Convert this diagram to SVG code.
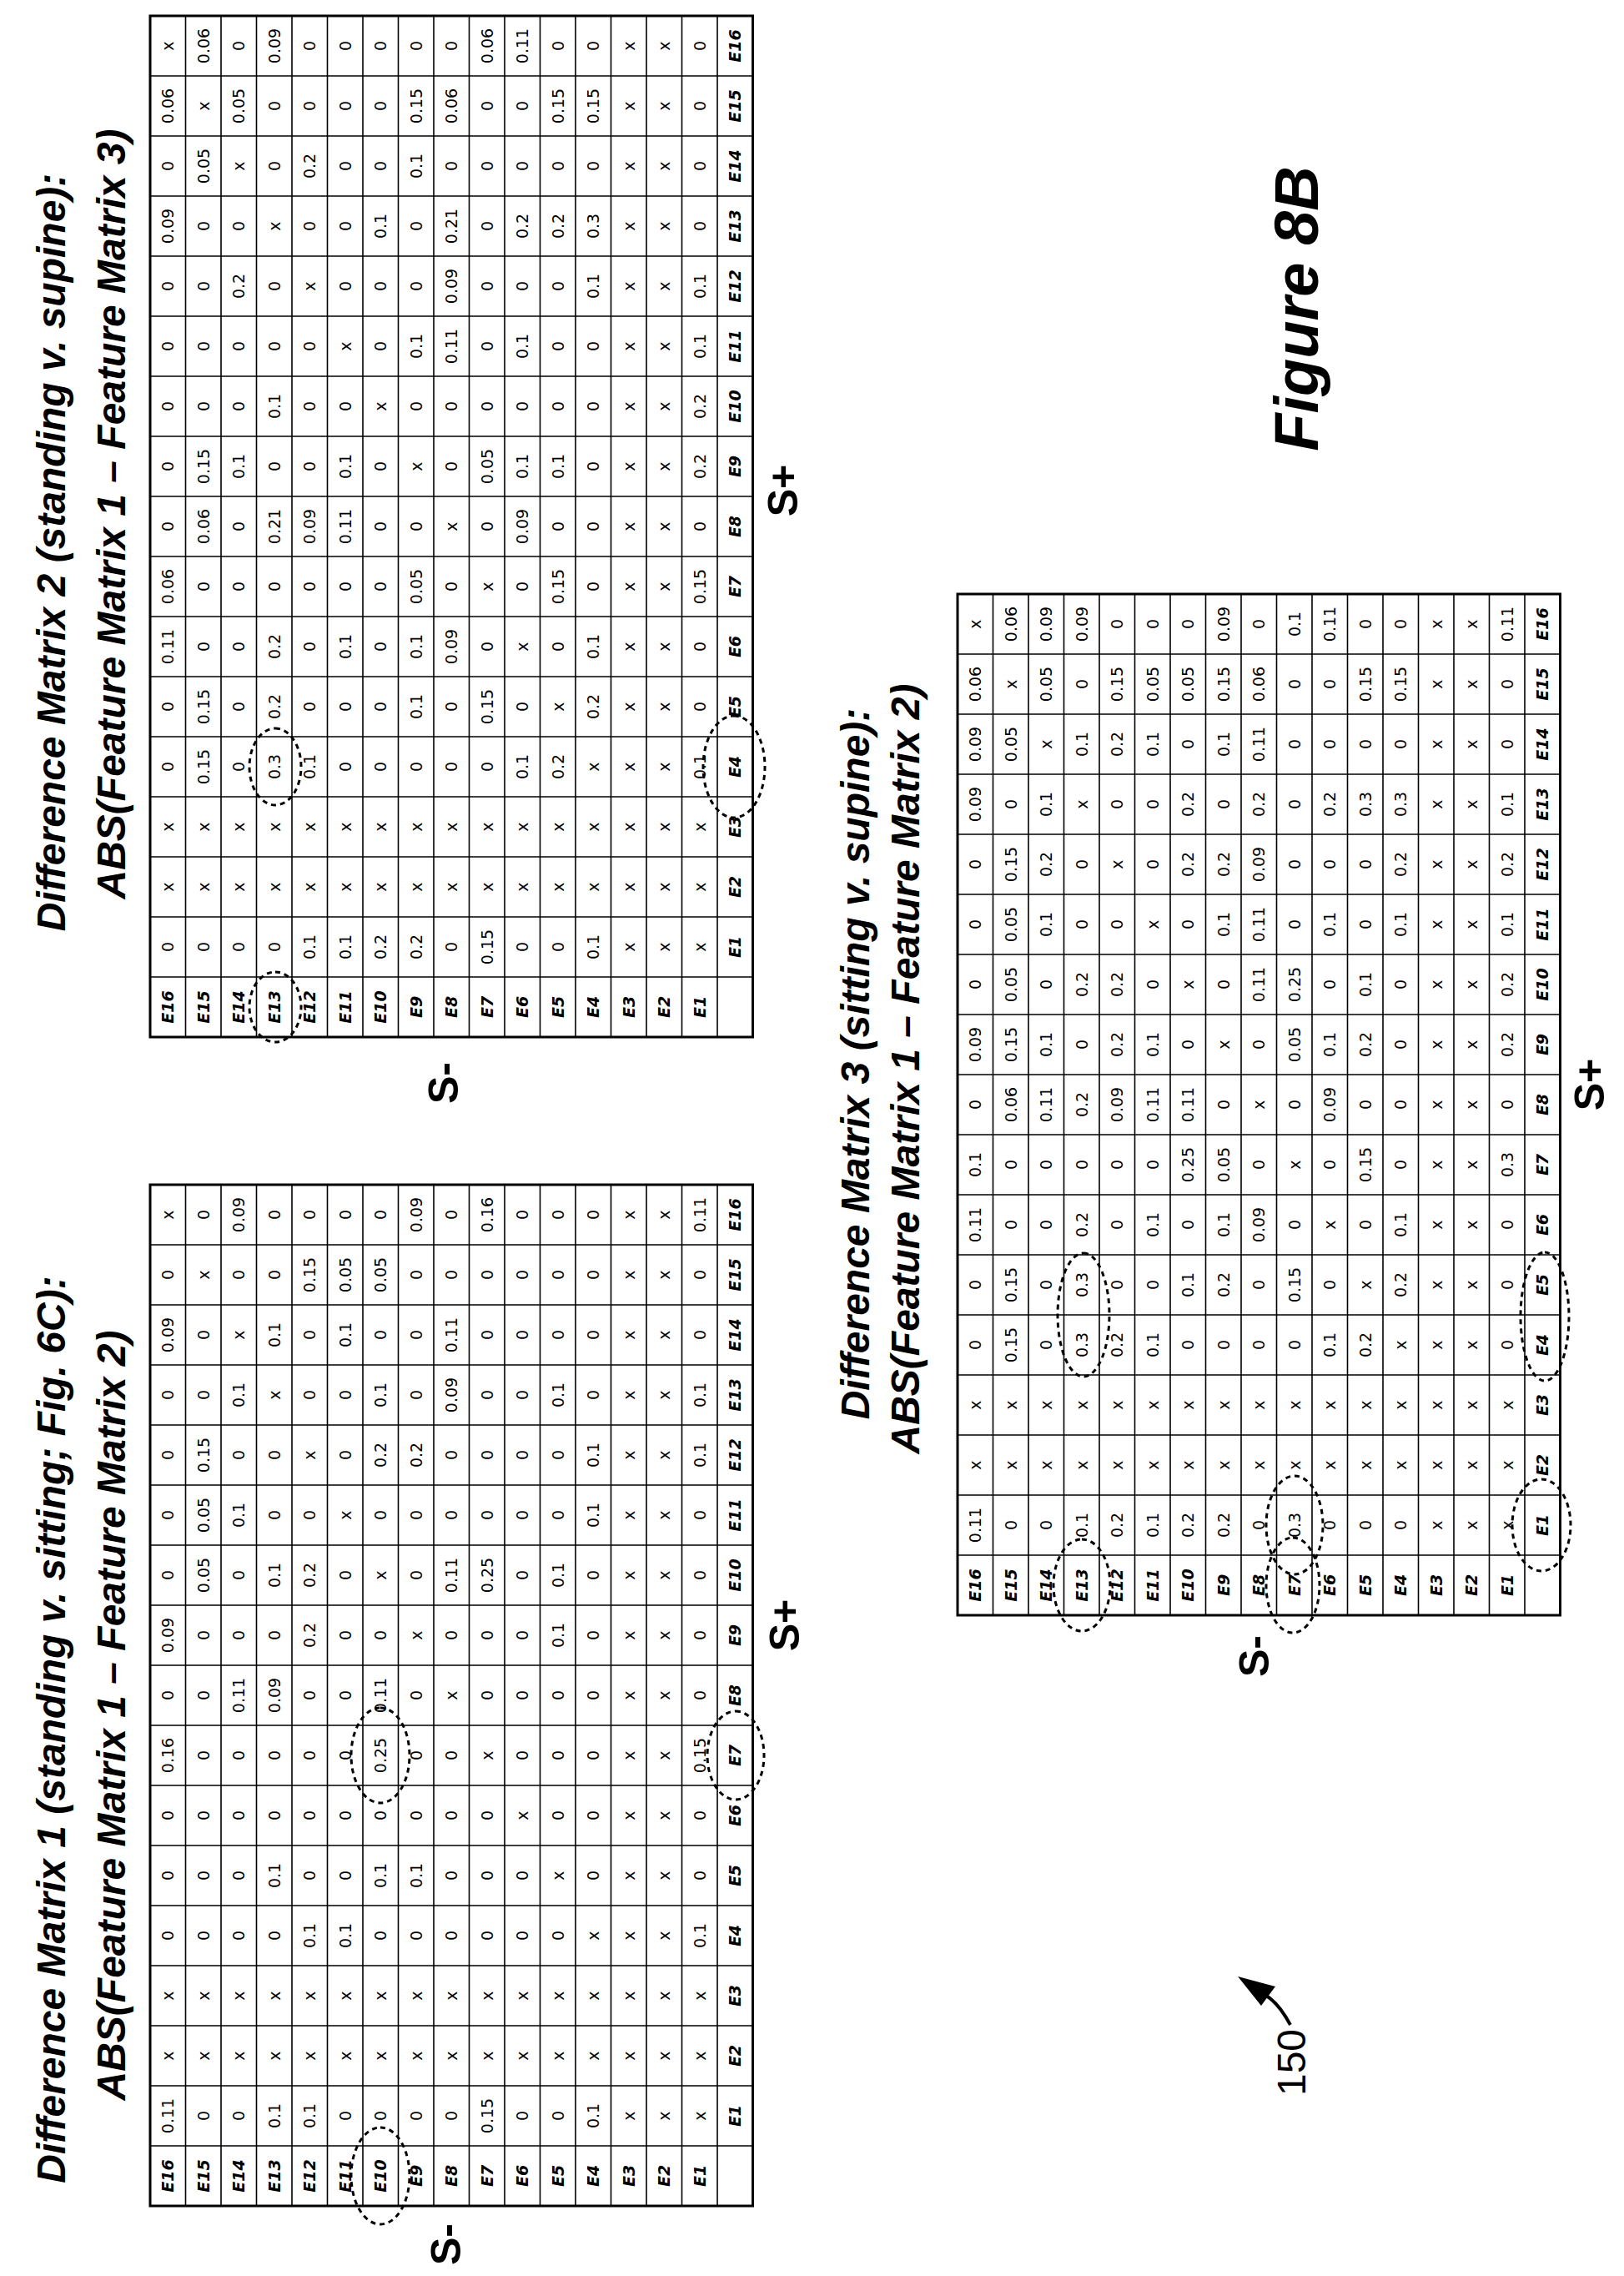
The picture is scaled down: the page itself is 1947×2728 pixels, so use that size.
<svg xmlns="http://www.w3.org/2000/svg" xmlns:xlink="http://www.w3.org/1999/xlink" width="1947" height="2728" viewBox="0 0 1947 2728">
<style>
.v{font-family:"DejaVu Sans",sans-serif;font-size:19px;text-anchor:middle;fill:#000}
.l{font-family:"DejaVu Sans",sans-serif;font-size:19px;font-weight:bold;font-style:italic;text-anchor:middle;fill:#000}
.t{font-family:"Liberation Sans",Arial,sans-serif;font-size:48px;font-weight:bold;font-style:italic;text-anchor:middle}
.s{font-family:"Liberation Sans",Arial,sans-serif;font-size:50px;font-weight:bold;text-anchor:middle}
.e{fill:none;stroke:#000;stroke-width:3;stroke-dasharray:6 5}
</style>
<defs>
<g id="grid">
<rect x="0" y="0" width="1224" height="722.5" fill="#fff" stroke="#000" stroke-width="3"/>
<path fill="none" stroke="#000" stroke-width="1.6" d="M0 42.5H1224M0 85H1224M0 127.5H1224M0 170H1224M0 212.5H1224M0 255H1224M0 297.5H1224M0 340H1224M0 382.5H1224M0 425H1224M0 467.5H1224M0 510H1224M0 552.5H1224M0 595H1224M0 637.5H1224M0 680H1224M72 0V722.5M144 0V722.5M216 0V722.5M288 0V722.5M360 0V722.5M432 0V722.5M504 0V722.5M576 0V722.5M648 0V722.5M720 0V722.5M792 0V722.5M864 0V722.5M936 0V722.5M1008 0V722.5M1080 0V722.5M1152 0V722.5"/>
</g>
<g id="labels" class="l">
<g transform="translate(36)"><text y="28">E16</text><text y="71">E15</text><text y="113">E14</text><text y="156">E13</text><text y="198">E12</text><text y="241">E11</text><text y="283">E10</text><text y="326">E9</text><text y="368">E8</text><text y="411">E7</text><text y="453">E6</text><text y="496">E5</text><text y="538">E4</text><text y="581">E3</text><text y="623">E2</text><text y="666">E1</text></g>
<g transform="translate(0,708)"><text x="108">E1</text><text x="180">E2</text><text x="252">E3</text><text x="324">E4</text><text x="396">E5</text><text x="468">E6</text><text x="540">E7</text><text x="612">E8</text><text x="684">E9</text><text x="756">E10</text><text x="828">E11</text><text x="900">E12</text><text x="972">E13</text><text x="1044">E14</text><text x="1116">E15</text><text x="1188">E16</text></g>
</g>
<g id="xcol" class="v"><text y="28">x</text><text y="71">x</text><text y="113">x</text><text y="156">x</text><text y="198">x</text><text y="241">x</text><text y="283">x</text><text y="326">x</text><text y="368">x</text><text y="411">x</text><text y="453">x</text><text y="496">x</text><text y="538">x</text><text y="581">x</text><text y="623">x</text><text y="666">x</text></g>
</defs>
<rect width="1947" height="2728" fill="#fff"/>
<g transform="translate(0,2728) rotate(-90)">

<g id="matrix1" transform="translate(84,180)">
<use xlink:href="#grid"/><use xlink:href="#labels"/>
<g class="v" transform="translate(108)"><text y="28">0.11</text><text y="71">0</text><text y="113">0</text><text y="156">0.1</text><text y="198">0.1</text><text y="241">0</text><text y="283">0</text><text y="326">0</text><text y="368">0</text><text y="411">0.15</text><text y="453">0</text><text y="496">0</text><text y="538">0.1</text><text y="581">x</text><text y="623">x</text><text y="666">x</text></g>
<use xlink:href="#xcol" x="180"/><use xlink:href="#xcol" x="252"/>
<g class="v" transform="translate(324)"><text y="28">0</text><text y="71">0</text><text y="113">0</text><text y="156">0</text><text y="198">0.1</text><text y="241">0.1</text><text y="283">0</text><text y="326">0</text><text y="368">0</text><text y="411">0</text><text y="453">0</text><text y="496">0</text><text y="538">x</text><text y="581">x</text><text y="623">x</text><text y="666">0.1</text></g>
<g class="v" transform="translate(396)"><text y="28">0</text><text y="71">0</text><text y="113">0</text><text y="156">0.1</text><text y="198">0</text><text y="241">0</text><text y="283">0.1</text><text y="326">0.1</text><text y="368">0</text><text y="411">0</text><text y="453">0</text><text y="496">x</text><text y="538">0</text><text y="581">x</text><text y="623">x</text><text y="666">0</text></g>
<g class="v" transform="translate(468)"><text y="28">0</text><text y="71">0</text><text y="113">0</text><text y="156">0</text><text y="198">0</text><text y="241">0</text><text y="283">0</text><text y="326">0</text><text y="368">0</text><text y="411">0</text><text y="453">x</text><text y="496">0</text><text y="538">0</text><text y="581">x</text><text y="623">x</text><text y="666">0</text></g>
<g class="v" transform="translate(540)"><text y="28">0.16</text><text y="71">0</text><text y="113">0</text><text y="156">0</text><text y="198">0</text><text y="241">0</text><text y="283">0.25</text><text y="326">0</text><text y="368">0</text><text y="411">x</text><text y="453">0</text><text y="496">0</text><text y="538">0</text><text y="581">x</text><text y="623">x</text><text y="666">0.15</text></g>
<g class="v" transform="translate(612)"><text y="28">0</text><text y="71">0</text><text y="113">0.11</text><text y="156">0.09</text><text y="198">0</text><text y="241">0</text><text y="283">0.11</text><text y="326">0</text><text y="368">x</text><text y="411">0</text><text y="453">0</text><text y="496">0</text><text y="538">0</text><text y="581">x</text><text y="623">x</text><text y="666">0</text></g>
<g class="v" transform="translate(684)"><text y="28">0.09</text><text y="71">0</text><text y="113">0</text><text y="156">0</text><text y="198">0.2</text><text y="241">0</text><text y="283">0</text><text y="326">x</text><text y="368">0</text><text y="411">0</text><text y="453">0</text><text y="496">0.1</text><text y="538">0</text><text y="581">x</text><text y="623">x</text><text y="666">0</text></g>
<g class="v" transform="translate(756)"><text y="28">0</text><text y="71">0.05</text><text y="113">0</text><text y="156">0.1</text><text y="198">0.2</text><text y="241">0</text><text y="283">x</text><text y="326">0</text><text y="368">0.11</text><text y="411">0.25</text><text y="453">0</text><text y="496">0.1</text><text y="538">0</text><text y="581">x</text><text y="623">x</text><text y="666">0</text></g>
<g class="v" transform="translate(828)"><text y="28">0</text><text y="71">0.05</text><text y="113">0.1</text><text y="156">0</text><text y="198">0</text><text y="241">x</text><text y="283">0</text><text y="326">0</text><text y="368">0</text><text y="411">0</text><text y="453">0</text><text y="496">0</text><text y="538">0.1</text><text y="581">x</text><text y="623">x</text><text y="666">0</text></g>
<g class="v" transform="translate(900)"><text y="28">0</text><text y="71">0.15</text><text y="113">0</text><text y="156">0</text><text y="198">x</text><text y="241">0</text><text y="283">0.2</text><text y="326">0.2</text><text y="368">0</text><text y="411">0</text><text y="453">0</text><text y="496">0</text><text y="538">0.1</text><text y="581">x</text><text y="623">x</text><text y="666">0.1</text></g>
<g class="v" transform="translate(972)"><text y="28">0</text><text y="71">0</text><text y="113">0.1</text><text y="156">x</text><text y="198">0</text><text y="241">0</text><text y="283">0.1</text><text y="326">0</text><text y="368">0.09</text><text y="411">0</text><text y="453">0</text><text y="496">0.1</text><text y="538">0</text><text y="581">x</text><text y="623">x</text><text y="666">0.1</text></g>
<g class="v" transform="translate(1044)"><text y="28">0.09</text><text y="71">0</text><text y="113">x</text><text y="156">0.1</text><text y="198">0</text><text y="241">0.1</text><text y="283">0</text><text y="326">0</text><text y="368">0.11</text><text y="411">0</text><text y="453">0</text><text y="496">0</text><text y="538">0</text><text y="581">x</text><text y="623">x</text><text y="666">0</text></g>
<g class="v" transform="translate(1116)"><text y="28">0</text><text y="71">x</text><text y="113">0</text><text y="156">0</text><text y="198">0.15</text><text y="241">0.05</text><text y="283">0.05</text><text y="326">0</text><text y="368">0</text><text y="411">0</text><text y="453">0</text><text y="496">0</text><text y="538">0</text><text y="581">x</text><text y="623">x</text><text y="666">0</text></g>
<g class="v" transform="translate(1188)"><text y="28">x</text><text y="71">0</text><text y="113">0.09</text><text y="156">0</text><text y="198">0</text><text y="241">0</text><text y="283">0</text><text y="326">0.09</text><text y="368">0</text><text y="411">0.16</text><text y="453">0</text><text y="496">0</text><text y="538">0</text><text y="581">x</text><text y="623">x</text><text y="666">0.11</text></g>
</g>

<g id="matrix2" transform="translate(1485,180)">
<use xlink:href="#grid"/><use xlink:href="#labels"/>
<g class="v" transform="translate(108)"><text y="28">0</text><text y="71">0</text><text y="113">0</text><text y="156">0</text><text y="198">0.1</text><text y="241">0.1</text><text y="283">0.2</text><text y="326">0.2</text><text y="368">0</text><text y="411">0.15</text><text y="453">0</text><text y="496">0</text><text y="538">0.1</text><text y="581">x</text><text y="623">x</text><text y="666">x</text></g>
<use xlink:href="#xcol" x="180"/><use xlink:href="#xcol" x="252"/>
<g class="v" transform="translate(324)"><text y="28">0</text><text y="71">0.15</text><text y="113">0</text><text y="156">0.3</text><text y="198">0.1</text><text y="241">0</text><text y="283">0</text><text y="326">0</text><text y="368">0</text><text y="411">0</text><text y="453">0.1</text><text y="496">0.2</text><text y="538">x</text><text y="581">x</text><text y="623">x</text><text y="666">0.1</text></g>
<g class="v" transform="translate(396)"><text y="28">0</text><text y="71">0.15</text><text y="113">0</text><text y="156">0.2</text><text y="198">0</text><text y="241">0</text><text y="283">0</text><text y="326">0.1</text><text y="368">0</text><text y="411">0.15</text><text y="453">0</text><text y="496">x</text><text y="538">0.2</text><text y="581">x</text><text y="623">x</text><text y="666">0</text></g>
<g class="v" transform="translate(468)"><text y="28">0.11</text><text y="71">0</text><text y="113">0</text><text y="156">0.2</text><text y="198">0</text><text y="241">0.1</text><text y="283">0</text><text y="326">0.1</text><text y="368">0.09</text><text y="411">0</text><text y="453">x</text><text y="496">0</text><text y="538">0.1</text><text y="581">x</text><text y="623">x</text><text y="666">0</text></g>
<g class="v" transform="translate(540)"><text y="28">0.06</text><text y="71">0</text><text y="113">0</text><text y="156">0</text><text y="198">0</text><text y="241">0</text><text y="283">0</text><text y="326">0.05</text><text y="368">0</text><text y="411">x</text><text y="453">0</text><text y="496">0.15</text><text y="538">0</text><text y="581">x</text><text y="623">x</text><text y="666">0.15</text></g>
<g class="v" transform="translate(612)"><text y="28">0</text><text y="71">0.06</text><text y="113">0</text><text y="156">0.21</text><text y="198">0.09</text><text y="241">0.11</text><text y="283">0</text><text y="326">0</text><text y="368">x</text><text y="411">0</text><text y="453">0.09</text><text y="496">0</text><text y="538">0</text><text y="581">x</text><text y="623">x</text><text y="666">0</text></g>
<g class="v" transform="translate(684)"><text y="28">0</text><text y="71">0.15</text><text y="113">0.1</text><text y="156">0</text><text y="198">0</text><text y="241">0.1</text><text y="283">0</text><text y="326">x</text><text y="368">0</text><text y="411">0.05</text><text y="453">0.1</text><text y="496">0.1</text><text y="538">0</text><text y="581">x</text><text y="623">x</text><text y="666">0.2</text></g>
<g class="v" transform="translate(756)"><text y="28">0</text><text y="71">0</text><text y="113">0</text><text y="156">0.1</text><text y="198">0</text><text y="241">0</text><text y="283">x</text><text y="326">0</text><text y="368">0</text><text y="411">0</text><text y="453">0</text><text y="496">0</text><text y="538">0</text><text y="581">x</text><text y="623">x</text><text y="666">0.2</text></g>
<g class="v" transform="translate(828)"><text y="28">0</text><text y="71">0</text><text y="113">0</text><text y="156">0</text><text y="198">0</text><text y="241">x</text><text y="283">0</text><text y="326">0.1</text><text y="368">0.11</text><text y="411">0</text><text y="453">0.1</text><text y="496">0</text><text y="538">0</text><text y="581">x</text><text y="623">x</text><text y="666">0.1</text></g>
<g class="v" transform="translate(900)"><text y="28">0</text><text y="71">0</text><text y="113">0.2</text><text y="156">0</text><text y="198">x</text><text y="241">0</text><text y="283">0</text><text y="326">0</text><text y="368">0.09</text><text y="411">0</text><text y="453">0</text><text y="496">0</text><text y="538">0.1</text><text y="581">x</text><text y="623">x</text><text y="666">0.1</text></g>
<g class="v" transform="translate(972)"><text y="28">0.09</text><text y="71">0</text><text y="113">0</text><text y="156">x</text><text y="198">0</text><text y="241">0</text><text y="283">0.1</text><text y="326">0</text><text y="368">0.21</text><text y="411">0</text><text y="453">0.2</text><text y="496">0.2</text><text y="538">0.3</text><text y="581">x</text><text y="623">x</text><text y="666">0</text></g>
<g class="v" transform="translate(1044)"><text y="28">0</text><text y="71">0.05</text><text y="113">x</text><text y="156">0</text><text y="198">0.2</text><text y="241">0</text><text y="283">0</text><text y="326">0.1</text><text y="368">0</text><text y="411">0</text><text y="453">0</text><text y="496">0</text><text y="538">0</text><text y="581">x</text><text y="623">x</text><text y="666">0</text></g>
<g class="v" transform="translate(1116)"><text y="28">0.06</text><text y="71">x</text><text y="113">0.05</text><text y="156">0</text><text y="198">0</text><text y="241">0</text><text y="283">0</text><text y="326">0.15</text><text y="368">0.06</text><text y="411">0</text><text y="453">0</text><text y="496">0.15</text><text y="538">0.15</text><text y="581">x</text><text y="623">x</text><text y="666">0</text></g>
<g class="v" transform="translate(1188)"><text y="28">x</text><text y="71">0.06</text><text y="113">0</text><text y="156">0.09</text><text y="198">0</text><text y="241">0</text><text y="283">0</text><text y="326">0</text><text y="368">0</text><text y="411">0.06</text><text y="453">0.11</text><text y="496">0</text><text y="538">0</text><text y="581">x</text><text y="623">x</text><text y="666">0</text></g>
</g>

<g id="matrix3" transform="translate(792,1148)">
<use xlink:href="#grid"/><use xlink:href="#labels"/>
<g class="v" transform="translate(108)"><text y="28">0.11</text><text y="71">0</text><text y="113">0</text><text y="156">0.1</text><text y="198">0.2</text><text y="241">0.1</text><text y="283">0.2</text><text y="326">0.2</text><text y="368">0</text><text y="411">0.3</text><text y="453">0</text><text y="496">0</text><text y="538">0</text><text y="581">x</text><text y="623">x</text><text y="666">x</text></g>
<use xlink:href="#xcol" x="180"/><use xlink:href="#xcol" x="252"/>
<g class="v" transform="translate(324)"><text y="28">0</text><text y="71">0.15</text><text y="113">0</text><text y="156">0.3</text><text y="198">0.2</text><text y="241">0.1</text><text y="283">0</text><text y="326">0</text><text y="368">0</text><text y="411">0</text><text y="453">0.1</text><text y="496">0.2</text><text y="538">x</text><text y="581">x</text><text y="623">x</text><text y="666">0</text></g>
<g class="v" transform="translate(396)"><text y="28">0</text><text y="71">0.15</text><text y="113">0</text><text y="156">0.3</text><text y="198">0</text><text y="241">0</text><text y="283">0.1</text><text y="326">0.2</text><text y="368">0</text><text y="411">0.15</text><text y="453">0</text><text y="496">x</text><text y="538">0.2</text><text y="581">x</text><text y="623">x</text><text y="666">0</text></g>
<g class="v" transform="translate(468)"><text y="28">0.11</text><text y="71">0</text><text y="113">0</text><text y="156">0.2</text><text y="198">0</text><text y="241">0.1</text><text y="283">0</text><text y="326">0.1</text><text y="368">0.09</text><text y="411">0</text><text y="453">x</text><text y="496">0</text><text y="538">0.1</text><text y="581">x</text><text y="623">x</text><text y="666">0</text></g>
<g class="v" transform="translate(540)"><text y="28">0.1</text><text y="71">0</text><text y="113">0</text><text y="156">0</text><text y="198">0</text><text y="241">0</text><text y="283">0.25</text><text y="326">0.05</text><text y="368">0</text><text y="411">x</text><text y="453">0</text><text y="496">0.15</text><text y="538">0</text><text y="581">x</text><text y="623">x</text><text y="666">0.3</text></g>
<g class="v" transform="translate(612)"><text y="28">0</text><text y="71">0.06</text><text y="113">0.11</text><text y="156">0.2</text><text y="198">0.09</text><text y="241">0.11</text><text y="283">0.11</text><text y="326">0</text><text y="368">x</text><text y="411">0</text><text y="453">0.09</text><text y="496">0</text><text y="538">0</text><text y="581">x</text><text y="623">x</text><text y="666">0</text></g>
<g class="v" transform="translate(684)"><text y="28">0.09</text><text y="71">0.15</text><text y="113">0.1</text><text y="156">0</text><text y="198">0.2</text><text y="241">0.1</text><text y="283">0</text><text y="326">x</text><text y="368">0</text><text y="411">0.05</text><text y="453">0.1</text><text y="496">0.2</text><text y="538">0</text><text y="581">x</text><text y="623">x</text><text y="666">0.2</text></g>
<g class="v" transform="translate(756)"><text y="28">0</text><text y="71">0.05</text><text y="113">0</text><text y="156">0.2</text><text y="198">0.2</text><text y="241">0</text><text y="283">x</text><text y="326">0</text><text y="368">0.11</text><text y="411">0.25</text><text y="453">0</text><text y="496">0.1</text><text y="538">0</text><text y="581">x</text><text y="623">x</text><text y="666">0.2</text></g>
<g class="v" transform="translate(828)"><text y="28">0</text><text y="71">0.05</text><text y="113">0.1</text><text y="156">0</text><text y="198">0</text><text y="241">x</text><text y="283">0</text><text y="326">0.1</text><text y="368">0.11</text><text y="411">0</text><text y="453">0.1</text><text y="496">0</text><text y="538">0.1</text><text y="581">x</text><text y="623">x</text><text y="666">0.1</text></g>
<g class="v" transform="translate(900)"><text y="28">0</text><text y="71">0.15</text><text y="113">0.2</text><text y="156">0</text><text y="198">x</text><text y="241">0</text><text y="283">0.2</text><text y="326">0.2</text><text y="368">0.09</text><text y="411">0</text><text y="453">0</text><text y="496">0</text><text y="538">0.2</text><text y="581">x</text><text y="623">x</text><text y="666">0.2</text></g>
<g class="v" transform="translate(972)"><text y="28">0.09</text><text y="71">0</text><text y="113">0.1</text><text y="156">x</text><text y="198">0</text><text y="241">0</text><text y="283">0.2</text><text y="326">0</text><text y="368">0.2</text><text y="411">0</text><text y="453">0.2</text><text y="496">0.3</text><text y="538">0.3</text><text y="581">x</text><text y="623">x</text><text y="666">0.1</text></g>
<g class="v" transform="translate(1044)"><text y="28">0.09</text><text y="71">0.05</text><text y="113">x</text><text y="156">0.1</text><text y="198">0.2</text><text y="241">0.1</text><text y="283">0</text><text y="326">0.1</text><text y="368">0.11</text><text y="411">0</text><text y="453">0</text><text y="496">0</text><text y="538">0</text><text y="581">x</text><text y="623">x</text><text y="666">0</text></g>
<g class="v" transform="translate(1116)"><text y="28">0.06</text><text y="71">x</text><text y="113">0.05</text><text y="156">0</text><text y="198">0.15</text><text y="241">0.05</text><text y="283">0.05</text><text y="326">0.15</text><text y="368">0.06</text><text y="411">0</text><text y="453">0</text><text y="496">0.15</text><text y="538">0.15</text><text y="581">x</text><text y="623">x</text><text y="666">0</text></g>
<g class="v" transform="translate(1188)"><text y="28">x</text><text y="71">0.06</text><text y="113">0.09</text><text y="156">0.09</text><text y="198">0</text><text y="241">0</text><text y="283">0</text><text y="326">0.09</text><text y="368">0</text><text y="411">0.1</text><text y="453">0.11</text><text y="496">0</text><text y="538">0</text><text y="581">x</text><text y="623">x</text><text y="666">0.11</text></g>
</g>

<g id="highlights">
<ellipse class="e" cx="1521" cy="330" rx="42" ry="31"/>
<ellipse class="e" cx="1809" cy="330" rx="46" ry="31"/>
<ellipse class="e" cx="1809" cy="880" rx="61" ry="37"/>
<ellipse class="e" cx="120" cy="456" rx="58" ry="35"/>
<ellipse class="e" cx="624" cy="456" rx="57" ry="35"/>
<ellipse class="e" cx="624" cy="882" rx="53" ry="34"/>
<ellipse class="e" cx="828" cy="1297" rx="55" ry="34"/>
<ellipse class="e" cx="1152" cy="1299" rx="74" ry="31"/>
<ellipse class="e" cx="1150" cy="1852" rx="77" ry="29"/>
<ellipse class="e" cx="900" cy="1552" rx="59" ry="34"/>
<ellipse class="e" cx="828" cy="1550" rx="57" ry="32"/>
<ellipse class="e" cx="900" cy="1848" rx="55" ry="35"/>
</g>

<g id="titles">
<text class="t" x="655" y="78">Difference Matrix 1 (standing v. sitting; Fig. 6C):</text>
<text class="t" x="672" y="150">ABS(Feature Matrix 1 – Feature Matrix 2)</text>
<text class="t" x="2066" y="78">Difference Matrix 2 (standing v. supine):</text>
<text class="t" x="2112" y="150">ABS(Feature Matrix 1 – Feature Matrix 3)</text>
<text class="t" x="1453" y="1042">Difference Matrix 3 (sitting v. supine):</text>
<text class="t" x="1447" y="1102">ABS(Feature Matrix 1 – Feature Matrix 2)</text>
</g>
<g id="axis-labels">
<text class="s" x="38" y="552">S-</text>
<text class="s" x="780" y="958">S+</text>
<text class="s" x="1430" y="549">S-</text>
<text class="s" x="2140" y="956">S+</text>
<text class="s" x="743" y="1521">S-</text>
<text class="s" x="1428" y="1923">S+</text>
</g>
<text id="figure-label" x="2358" y="1580" style="font-family:'Liberation Sans',Arial,sans-serif;font-size:74px;font-weight:bold;font-style:italic;text-anchor:middle">Figure 8B</text>
<text id="ref150" x="256" y="1565" style="font-family:'Liberation Sans',Arial,sans-serif;font-size:48px;text-anchor:middle">150</text>
</g>
<g id="connectors">
<path d="M1547 2427 Q1533 2401 1518 2392" fill="none" stroke="#000" stroke-width="4"/>
<polygon points="1484,2369 1529,2381 1512,2404" fill="#000"/>
</g>
</svg>
